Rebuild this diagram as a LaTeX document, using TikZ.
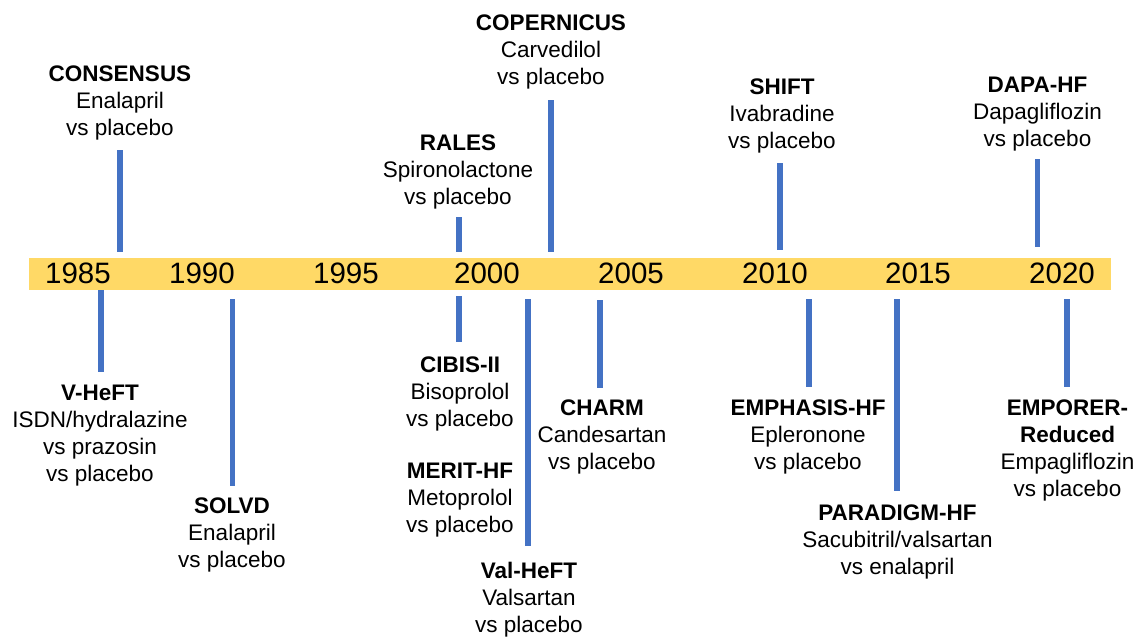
\documentclass[tikz,border=0pt]{standalone}
\usepackage{fontspec}
\setmainfont{Liberation Sans}
\definecolor{bargold}{HTML}{FFD966}
\definecolor{tickblue}{HTML}{4472C4}
\begin{document}
\begin{tikzpicture}[x=1pt,y=-1pt,
  year/.style={font=\fontsize{29.5}{32}\selectfont, anchor=base, inner sep=0},
  trial/.style={font=\fontsize{22.5}{27}\selectfont, align=center, anchor=north, inner sep=0},
  tickline/.style={draw=tickblue, line width=5.5pt}]
\useasboundingbox (0,0) rectangle (1139,637);
% bar
\node[fill=bargold, minimum width=1082pt, minimum height=32pt, inner sep=0, anchor=north west] (bar) at (29,258) {};
% years
\node[year] (y1985) at (78,283) {1985};
\node[year] (y1990) at (202,283) {1990};
\node[year] (y1995) at (346,283) {1995};
\node[year] (y2000) at (487,283) {2000};
\node[year] (y2005) at (631,283) {2005};
\node[year] (y2010) at (775,283) {2010};
\node[year] (y2015) at (918,283) {2015};
\node[year] (y2020) at (1062,283) {2020};
% trials above
\node[trial] (consensus) at (120,66) {\textbf{CONSENSUS}\\Enalapril\\vs placebo};
\node[trial] (rales) at (458,135) {\textbf{RALES}\\Spironolactone\\vs placebo};
\node[trial] (copernicus) at (551,15) {\textbf{COPERNICUS}\\Carvedilol\\vs placebo};
\node[trial] (shift) at (782,79) {\textbf{SHIFT}\\Ivabradine\\vs placebo};
\node[trial] (dapa) at (1037.5,77) {\textbf{DAPA-HF}\\Dapagliflozin\\vs placebo};
% trials below
\node[trial] (vheft) at (100,385) {\textbf{V-HeFT}\\ISDN/hydralazine\\vs prazosin\\vs placebo};
\node[trial] (solvd) at (232,498) {\textbf{SOLVD}\\Enalapril\\vs placebo};
\node[trial] (cibis) at (460,357) {\textbf{CIBIS-II}\\Bisoprolol\\vs placebo};
\node[trial] (merit) at (460,463) {\textbf{MERIT-HF}\\Metoprolol\\vs placebo};
\node[trial] (valheft) at (529,562) {\textbf{Val-HeFT}\\Valsartan\\vs placebo};
\node[trial] (charm) at (602,400) {\textbf{CHARM}\\Candesartan\\vs placebo};
\node[trial] (emphasis) at (808,400) {\textbf{EMPHASIS-HF}\\Epleronone\\vs placebo};
\node[trial] (paradigm) at (897.5,505) {\textbf{PARADIGM-HF}\\Sacubitril/valsartan\\vs enalapril};
\node[trial] (emporer) at (1067.5,400) {\textbf{EMPORER-}\\\textbf{Reduced}\\Empagliflozin\\vs placebo};
% line end coordinates
\coordinate (consensusT) at (120,150); \coordinate (consensusB) at (120,252);
\coordinate (ralesT) at (459,217); \coordinate (ralesB) at (459,252);
\coordinate (copernicusT) at (551,100); \coordinate (copernicusB) at (551,252);
\coordinate (shiftT) at (780,163); \coordinate (shiftB) at (780,250);
\coordinate (dapaT) at (1037.5,159); \coordinate (dapaB) at (1037.5,247);
\coordinate (vheftT) at (101,290); \coordinate (vheftB) at (101,372);
\coordinate (solvdT) at (232.5,299); \coordinate (solvdB) at (232.5,486);
\coordinate (cibisT) at (459,296); \coordinate (cibisB) at (459,342);
\coordinate (valheftT) at (528,299); \coordinate (valheftB) at (528,546);
\coordinate (charmT) at (600,300); \coordinate (charmB) at (600,388);
\coordinate (emphasisT) at (809,299); \coordinate (emphasisB) at (809,387);
\coordinate (paradigmT) at (897,299); \coordinate (paradigmB) at (897,491);
\coordinate (emporerT) at (1067,299); \coordinate (emporerB) at (1067,387);
% lines
\foreach \n in {consensus,rales,copernicus,shift,dapa,vheft,solvd,cibis,valheft,charm,emphasis,paradigm,emporer}
  \draw[tickline] (\n T) -- (\n B);
\end{tikzpicture}
\end{document}
